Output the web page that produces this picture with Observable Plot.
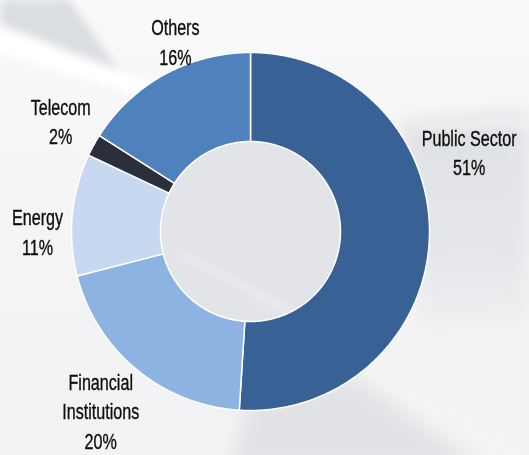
<!DOCTYPE html>
<html>
<head>
<meta charset="utf-8">
<script src="https://cdn.jsdelivr.net/npm/d3@7"></script>
<script src="https://cdn.jsdelivr.net/npm/@observablehq/plot@0.6"></script>
<style>
  html, body { margin: 0; padding: 0; }
  #wrap { position: relative; width: 529px; height: 455px; overflow: hidden; background: #f3f4f5; }
  #bg { position: absolute; left: 0; top: 0; }
  #chart { position: absolute; left: 0; top: 0; }
</style>
</head>
<body>
<div id="wrap">
<svg id="bg" width="529" height="455" viewBox="0 0 529 455">
  <defs>
    <filter id="b4" x="-20%" y="-20%" width="140%" height="140%"><feGaussianBlur stdDeviation="4"/></filter>
    <filter id="b10" x="-30%" y="-30%" width="160%" height="160%"><feGaussianBlur stdDeviation="10"/></filter>
    <linearGradient id="g0" x1="0" y1="0" x2="0" y2="1">
      <stop offset="0" stop-color="#fafafa"/>
      <stop offset="0.3" stop-color="#f6f6f7"/>
      <stop offset="0.7" stop-color="#f2f3f4"/>
      <stop offset="1" stop-color="#f3f3f4"/>
    </linearGradient>
    <linearGradient id="gr" x1="0" y1="0" x2="0" y2="1">
      <stop offset="0" stop-color="#dfe1e4"/>
      <stop offset="0.6" stop-color="#e4e6e9"/>
      <stop offset="1" stop-color="#eeeff1"/>
    </linearGradient>
  </defs>
  <rect width="529" height="455" fill="url(#g0)"/>
  <g filter="url(#b10)">
    <circle cx="250" cy="231" r="120" fill="#e2e4e7"/>
    <polygon points="400,122 529,112 529,320 420,330" fill="url(#gr)"/>
    <polygon points="250,400 355,378 483,470 230,470" fill="#e0e2e5"/>
  </g>
  <g filter="url(#b4)">
    <polygon points="0,0 70,0 118,70 0,24" fill="#dadde1"/>
    <polygon points="-10,28 0,28 124,74 250,112 250,122 120,90 -10,50" fill="#ffffff"/>
    <polygon points="175,255 182,252 320,322 312,327" fill="#eceef0" opacity="0.8"/>
    <polygon points="360,372 370,372 529,455 505,455" fill="#f4f5f6" opacity="0.8"/>
    <polygon points="420,122 529,120 529,128 420,128" fill="#f4f5f6" opacity="0.8"/>
  </g>
</svg>
<div id="chart"></div>
</div>
<script>
// ---- data ----
const categories = ["Public Sector", "Financial\nInstitutions", "Energy", "Telecom", "Others"];
const shares = [51, 20, 11, 2, 16];
const colors = ["#386196", "#8db3e2", "#c6d9f1", "#2b2e3b", "#4f81bd"];

// ---- layout (label placement: angle clockwise from 12 o'clock, radius in px) ----
const labelAngle = [69.8, 220, 270.3, 300.4, 338.5];
const labelRadius = [233, 233, 213, 220, 205];

const W = 529, H = 455;
const cx = 250, cy = 231, R = 179, r0 = 90;

const total = d3.sum(shares);
let acc = 0;
const slices = categories.map((name, i) => {
  const a0 = acc / total * 2 * Math.PI;
  acc += shares[i];
  const a1 = acc / total * 2 * Math.PI;
  return {name, value: shares[i], a0, a1};
});

const pts = [];
for (const s of slices) {
  const n = Math.max(4, Math.ceil((s.a1 - s.a0) / (Math.PI / 360)));
  for (let k = 0; k <= n; k++) {
    const a = s.a0 + (s.a1 - s.a0) * k / n;
    pts.push({name: s.name, x: R * Math.sin(a), y: -R * Math.cos(a)});
  }
  for (let k = n; k >= 0; k--) {
    const a = s.a0 + (s.a1 - s.a0) * k / n;
    pts.push({name: s.name, x: r0 * Math.sin(a), y: -r0 * Math.cos(a)});
  }
}

const labels = slices.map((s, i) => {
  const a = labelAngle[i] * Math.PI / 180;
  return {
    x: labelRadius[i] * Math.sin(a),
    y: -labelRadius[i] * Math.cos(a),
    text: s.name + "\n" + s.value + "%"
  };
});

const chart = Plot.plot({
  width: W, height: H,
  margin: 0,
  style: {background: "transparent", overflow: "visible"},
  x: {domain: [-cx, W - cx], range: [0, W], axis: null},
  y: {domain: [-cy, H - cy], range: [0, H], axis: null},
  color: {domain: categories, range: colors},
  marks: [
    Plot.line(pts, {
      x: "x", y: "y", z: "name", fill: "name",
      stroke: "white", strokeWidth: 1.5, curve: "linear-closed"
    }),
    Plot.text(labels, {
      x: "x", y: "y", text: "text",
      fontSize: 21.5, lineHeight: 1.38, fill: "#0d0d0d",
      stroke: "#0d0d0d", strokeWidth: 0.35,
      fontFamily: "'Liberation Sans', Arial, sans-serif",
      textAnchor: "middle", lineAnchor: "middle", dy: 0
    })
  ]
});
// condense the label glyphs horizontally (narrow typeface look)
d3.select(chart).selectAll("text").each(function () {
  const t = this.getAttribute("transform");
  if (t) this.setAttribute("transform", t + " scale(0.75,1)");
});
document.getElementById("chart").appendChild(chart);
</script>
</body>
</html>
